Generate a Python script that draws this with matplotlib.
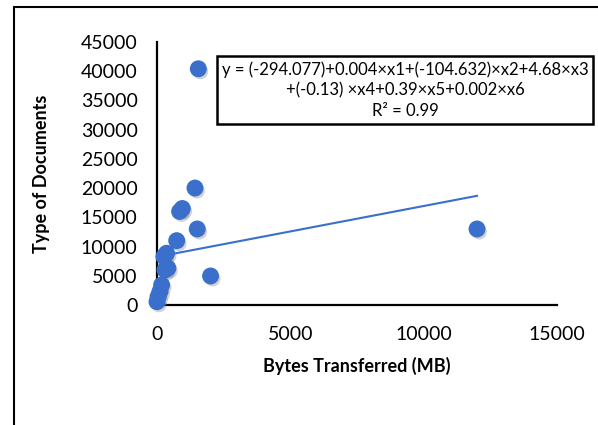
import matplotlib
matplotlib.use('Agg')
import matplotlib.pyplot as plt
import matplotlib.patheffects as pe
from matplotlib.patches import Rectangle
import numpy as np

# values
bytes_mb = [0, 40, 110, 175, 260, 300, 360, 410, 740, 850, 950, 1425, 1510, 1550, 2010, 12000]
doc_types = [560, 1420, 2280, 3420, 8270, 6000, 8850, 6300, 11000, 16000, 16500, 20000, 13000, 40400, 4960, 13000]

# linear trendline as drawn in the reference
trend_intercept = 8230
trend_slope = 0.87

x_ticks = [0, 5000, 10000, 15000]
y_ticks = list(range(0, 45001, 5000))

equation = ("y = (-294.077)+0.004\u00d7x1+(-104.632)\u00d7x2+4.68\u00d7x3\n"
            "+(-0.13) \u00d7x4+0.39\u00d7x5+0.002\u00d7x6\n"
            "R\u00b2 = 0.99")

plt.rcParams['font.family'] = ['Lato', 'DejaVu Sans']
blue = '#3a6fcc'

fig = plt.figure(figsize=(5.98, 4.25), dpi=100)
ax = fig.add_axes([0.2625, 0.2824, 0.669, 0.619])

# outer frame of the chart area (runs off the right and bottom edges)
fig.patches.append(Rectangle((14 / 598, -0.1), 2.0, (418 / 425) + 0.1,
                             transform=fig.transFigure, fill=False,
                             edgecolor='black', linewidth=1.5))

shadow = [pe.SimplePatchShadow(offset=(1.5, -2), shadow_rgbFace='gray', alpha=0.35), pe.Normal()]
ax.scatter(bytes_mb, doc_types, s=125, color=blue, zorder=3, path_effects=shadow,
           clip_on=False)

xl = np.array([50, max(bytes_mb)], dtype=float)
ax.plot(xl, trend_intercept + trend_slope * xl, color=blue, linewidth=1.5, zorder=2)

ax.set_xlim(0, 15000)
ax.set_ylim(0, 45000)
ax.set_xticks(x_ticks)
ax.set_yticks(y_ticks)
ax.tick_params(length=0, labelsize=14)
ax.tick_params(axis='y', pad=14)
ax.tick_params(axis='x', pad=15)
for s in ['top', 'right']:
    ax.spines[s].set_visible(False)
for s in ['left', 'bottom']:
    ax.spines[s].set_linewidth(1.6)
    ax.spines[s].set_color('black')

ax.set_xlabel('Bytes Transferred (MB)', fontsize=13, fontweight='bold', labelpad=10)
ax.set_ylabel('Type of Documents', fontsize=13, fontweight='bold', labelpad=22)

fig.text(405 / 598, 1 - 90 / 425, equation, ha='center', va='center', fontsize=12,
         linespacing=1.35,
         bbox=dict(boxstyle='square,pad=0.3', facecolor='white', edgecolor='black', linewidth=1.8))

fig.savefig('out.png', dpi=100)
